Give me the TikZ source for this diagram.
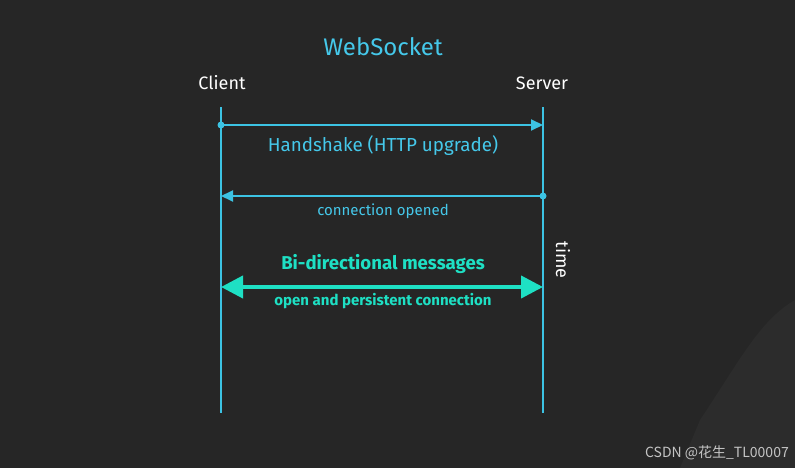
\documentclass[tikz,border=0pt]{standalone}
\usepackage{fontspec}
\setmainfont{Fira Sans}
\newfontfamily\cjkfont{Noto Sans CJK SC}
\usetikzlibrary{arrows.meta}
\definecolor{bg}{HTML}{262626}
\definecolor{bgl}{HTML}{2C2C2C}
\definecolor{lcyan}{HTML}{3CC3E3}
\definecolor{tcyan}{HTML}{45C8EA}
\definecolor{teal}{HTML}{1EE0C4}
\definecolor{wm}{HTML}{C4C4C4}
\begin{document}
\begin{tikzpicture}[x=1pt,y=-1pt,
  lifeline/.style={draw=lcyan,line width=2pt},
  msg/.style={draw=lcyan,line width=2pt},
  dotst/.style={circle,fill=lcyan,inner sep=0pt,minimum size=7pt},
  actor/.style={text=white,font=\fontsize{18}{20}\selectfont,inner sep=0pt},
  lbl/.style={text=tcyan,inner sep=0pt}]
\fill[bg] (0,0) rectangle (795,468);
\fill[bgl] (795,300) .. controls (760,320) and (740,360) .. (700,420) -- (680,468) -- (795,468) -- cycle;
\useasboundingbox (0,0) rectangle (795,468);
\node[text=tcyan,font=\fontsize{24}{26}\selectfont,inner sep=0pt] (title) at (383,47) {WebSocket};
\node[actor] (client) at (222,83) {Client};
\node[actor] (server) at (542,83) {Server};
\coordinate (ct) at (221,107);
\coordinate (cb) at (221,413);
\coordinate (st) at (543,107);
\coordinate (sb) at (543,413);
\draw[lifeline] (ct) -- (cb);
\draw[lifeline] (st) -- (sb);
\node[dotst] (d1) at (221,125) {};
\coordinate (a1) at (543,125);
\draw[msg,-{Triangle[length=12pt,width=11pt]}] (d1.center) -- (a1);
\node[lbl,font=\fontsize{18.8}{22}\selectfont] (hs) at (383,146) {Handshake (HTTP upgrade)};
\node[dotst] (d2) at (543,196) {};
\coordinate (a2) at (221,196);
\draw[msg,-{Triangle[length=12pt,width=11pt]}] (d2.center) -- (a2);
\node[lbl,font=\fontsize{15}{17}\selectfont] (co) at (383,211) {connection opened};
\coordinate (b1) at (221,287);
\coordinate (b2) at (543,287);
\draw[draw=teal,line width=4pt,{Triangle[length=22pt,width=22pt]}-{Triangle[length=22pt,width=22pt]}] (b1) -- (b2);
\node[text=teal,font=\fontsize{18.6}{21}\selectfont\bfseries,inner sep=0pt] (bi) at (383,264) {Bi-directional messages};
\node[text=teal,font=\fontsize{15}{17}\selectfont\bfseries,inner sep=0pt] (op) at (383,301) {open and persistent connection};
\node[text=white,font=\fontsize{18}{20}\selectfont,rotate=-90,inner sep=0pt] (time) at (563,260) {time};
\node[text=wm,font=\fontsize{14}{16}\selectfont\cjkfont,anchor=east,inner sep=0pt] (wmk) at (789,453) {CSDN @花生\_TL00007};
\end{tikzpicture}
\end{document}
